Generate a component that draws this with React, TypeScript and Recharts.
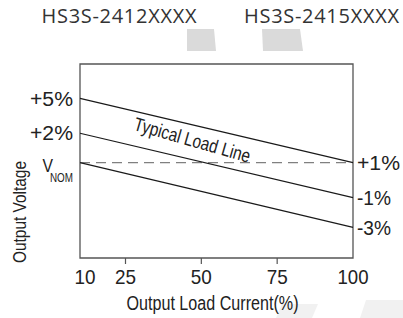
import React from 'react'
import {
  LineChart,
  Line,
  XAxis,
  YAxis,
  ReferenceLine,
  ReferenceArea,
  ReferenceDot,
} from 'recharts'

// load current (%), only the two ends of each load line are given
const loadCurrent = [10, 100]
// schematic height of each line inside the plot (0 = bottom edge, 100 = top edge)
const upperLine = [82.3, 49.2]
const middleLine = [64.3, 31.1]
const lowerLine = [49.2, 15.8]
const nominalLevel = 49.2

const xTicks = [10, 25, 50, 75, 100]
const leftTicks = [82.3, 64.3, 49.2]
const leftLabels = ['+5%', '+2%', 'VNOM']
const rightTicks = [49.2, 31.1, 15.8]
const rightLabels = ['+1%', '-1%', '-3%']
const models = ['HS3S-2412XXXX', 'HS3S-2415XXXX']

const data = loadCurrent.map((load, i) => ({
  load,
  upper: upperLine[i],
  middle: middleLine[i],
  lower: lowerLine[i],
}))

// condensed look: Arial-metric font squeezed with textLength
const SANS = '"Liberation Sans", Arial, sans-serif'
const INK = '#222'
const FRAME = '#555'

// rough visible widths of the labels in the original (px)
const squeeze = (s: string) => {
  if (s.startsWith('+')) return 43
  if (s.startsWith('-')) return 34
  if (s.length === 3) return 31
  return 21
}

const LeftTick = ({ x, y, payload }: any) => {
  const label = leftLabels[leftTicks.indexOf(payload.value)]
  if (label === 'VNOM') {
    return (
      <g fill={INK} fontFamily={SANS}>
        <text x={x - 20} y={y + 9} textAnchor="end" fontSize={19} textLength={10.5} lengthAdjust="spacingAndGlyphs">
          V
        </text>
        <text x={x} y={y + 19} textAnchor="end" fontSize={12} textLength={23} lengthAdjust="spacingAndGlyphs">
          NOM
        </text>
      </g>
    )
  }
  return (
    <text
      x={x}
      y={y}
      dy="0.36em"
      textAnchor="end"
      fontSize={20}
      fill={INK}
      fontFamily={SANS}
      textLength={squeeze(label)}
      lengthAdjust="spacingAndGlyphs"
    >
      {label}
    </text>
  )
}

const RightTick = ({ x, y, payload }: any) => {
  const label = rightLabels[rightTicks.indexOf(payload.value)]
  return (
    <text
      x={x}
      y={y}
      dy="0.36em"
      textAnchor="start"
      fontSize={20}
      fill={INK}
      fontFamily={SANS}
      textLength={squeeze(label)}
      lengthAdjust="spacingAndGlyphs"
    >
      {label}
    </text>
  )
}

const BottomTick = ({ x, y, payload }: any) => {
  const v = payload.value
  const inner = v !== xTicks[0] && v !== xTicks[xTicks.length - 1]
  return (
    <g>
      {inner && <line x1={x} x2={x} y1={y} y2={y + 6} stroke={FRAME} strokeWidth={1.2} />}
      <text
        x={x + (v === xTicks[0] ? 5 : 0)}
        y={y + 26}
        textAnchor="middle"
        fontSize={21}
        fill={INK}
        fontFamily={SANS}
        textLength={squeeze(String(v))}
        lengthAdjust="spacingAndGlyphs"
      >
        {v}
      </text>
    </g>
  )
}

const XTitle = (props: any) => {
  const vb = props.viewBox
  return (
    <text
      x={vb.x + vb.width / 2 - 4}
      y={vb.y + 52}
      textAnchor="middle"
      fontSize={20}
      fill={INK}
      fontFamily={SANS}
      textLength={172}
      lengthAdjust="spacingAndGlyphs"
    >
      Output Load Current(%)
    </text>
  )
}

const YTitle = (props: any) => {
  const vb = props.viewBox
  const cx = vb.x + 26
  const cy = vb.y + vb.height - 46
  return (
    <text
      x={cx}
      y={cy}
      transform={`rotate(-90 ${cx} ${cy})`}
      textAnchor="middle"
      fontSize={19}
      fill={INK}
      fontFamily={SANS}
      textLength={102}
      lengthAdjust="spacingAndGlyphs"
    >
      Output Voltage
    </text>
  )
}

const LineNote = (props: any) => {
  const vb = props.viewBox
  const cx = vb.x + vb.width / 2
  const cy = vb.y + vb.height / 2
  return (
    <text
      x={cx}
      y={cy}
      dy="0.32em"
      transform={`rotate(16 ${cx} ${cy})`}
      textAnchor="middle"
      fontSize={19}
      fill={INK}
      fontFamily={SANS}
      textLength={120}
      lengthAdjust="spacingAndGlyphs"
    >
      Typical Load Line
    </text>
  )
}

export default function App() {
  return (
    <div style={{ position: 'absolute', left: 0, top: 0, width: 403, height: 318, background: '#fff' }}>
      <svg width={403} height={318} style={{ position: 'absolute', left: 0, top: 0 }}>
        <polygon points="187,29 214,29 216,51 187,51" fill="#dadada" />
        <polygon points="262,29 300,29 303,51 263,51" fill="#dadada" />
        <polygon points="276,318 282,304 318,304 312,318" fill="#f1f1f1" />
        <polygon points="360,318 366,300 403,300 403,318" fill="#f1f1f1" />
        {models.map((m, i) => (
          <text
            key={m}
            x={i === 0 ? 119 : 321.5}
            y={22.7}
            textAnchor="middle"
            fontSize={20}
            fill="#333"
            fontFamily='"Open Sans", "Noto Sans", sans-serif'
            textLength={155}
            lengthAdjust="spacing"
          >
            {m}
          </text>
        ))}
      </svg>
      <div style={{ position: 'absolute', left: 0, top: 0 }}>
        <LineChart width={403} height={318} data={data} margin={{ top: 64, right: 0, bottom: 0, left: 0 }}>
          <XAxis
            dataKey="load"
            type="number"
            domain={[10, 100]}
            ticks={xTicks}
            axisLine={false}
            tickLine={false}
            tickSize={0}
            tickMargin={0}
            height={60}
            tick={<BottomTick />}
            interval={0}
            label={XTitle}
          />
          <YAxis
            yAxisId="left"
            type="number"
            domain={[0, 100]}
            ticks={leftTicks}
            axisLine={false}
            tickLine={false}
            tickSize={0}
            tickMargin={7}
            width={80}
            tick={<LeftTick />}
            interval={0}
            label={YTitle}
          />
          <YAxis
            yAxisId="right"
            orientation="right"
            type="number"
            domain={[0, 100]}
            ticks={rightTicks}
            axisLine={false}
            tickLine={false}
            tickSize={0}
            tickMargin={4}
            width={50}
            tick={<RightTick />}
            interval={0}
          />
          <ReferenceArea
            yAxisId="left"
            x1={10}
            x2={100}
            y1={0}
            y2={100}
            fill="none"
            stroke={FRAME}
            strokeWidth={1.3}
          />
          <ReferenceLine yAxisId="left" y={nominalLevel} stroke="#808080" strokeWidth={1.2} strokeDasharray="10 6" />
          <Line yAxisId="left" dataKey="upper" stroke="#1a1a1a" strokeWidth={1.2} dot={false} isAnimationActive={false} />
          <Line yAxisId="left" dataKey="middle" stroke="#1a1a1a" strokeWidth={1.2} dot={false} isAnimationActive={false} />
          <Line yAxisId="right" dataKey="lower" stroke="#1a1a1a" strokeWidth={1.2} dot={false} isAnimationActive={false} />
          <ReferenceDot
            yAxisId="left"
            x={47}
            y={60.6}
            r={1}
            fill="none"
            stroke="none"
            label={LineNote}
          />
        </LineChart>
      </div>
    </div>
  )
}
